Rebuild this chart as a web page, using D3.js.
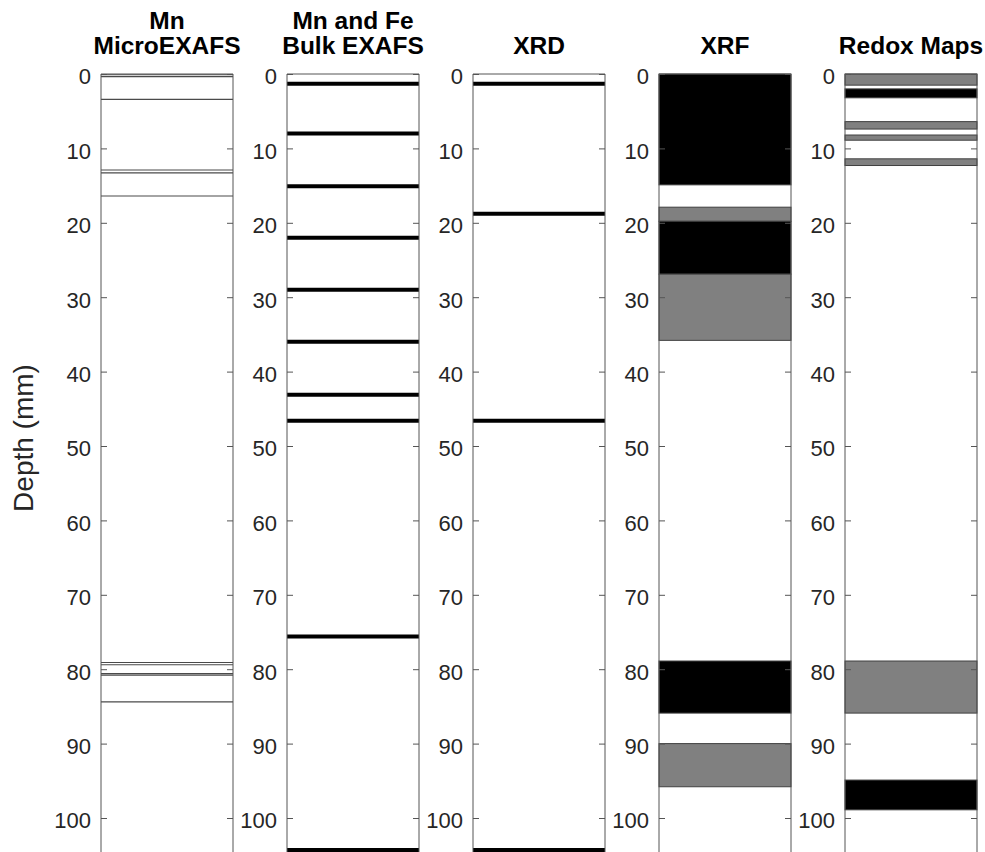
<!DOCTYPE html>
<html>
<head>
<meta charset="utf-8">
<script src="https://cdn.jsdelivr.net/npm/d3@7"></script>
<style>
  body { margin: 0; background: #fff; }
  text { font-family: "Liberation Sans", Arial, Helvetica, sans-serif; }
</style>
</head>
<body>
<svg id="plot1"></svg>
<script>
// panel titles (two lines where needed)
var titles = [['Mn', 'MicroEXAFS'], ['Mn and Fe', 'Bulk EXAFS'], ['XRD'], ['XRF'], ['Redox Maps']];
var yTicks = [0, 10, 20, 30, 40, 50, 60, 70, 80, 90, 100];

// thin sample lines, depth in mm
var microDepths = [0.1, 0.35, 3.4, 12.9, 13.3, 16.4, 79.1, 79.4, 80.6, 80.8, 84.4];
// thick sample lines
var bulkDepths = [1.3, 8.0, 15.1, 22.0, 29.0, 36.0, 43.1, 46.6, 75.6, 104.3];
var xrdDepths = [1.3, 18.8, 46.6, 104.3];
// intervals: [top, bottom, kind]
var xrfTop = [0, 17.9, 19.8, 26.9, 78.9, 90.0];
var xrfBot = [14.9, 19.8, 26.9, 35.8, 85.9, 95.8];
var xrfKind = ['b', 'g', 'b', 'g', 'b', 'g'];
var redoxTop = [0, 2.0, 6.4, 8.2, 11.4, 78.9, 94.9];
var redoxBot = [1.5, 3.2, 7.4, 8.9, 12.3, 85.9, 98.9];
var redoxKind = ['g', 'b', 'g', 'g', 'g', 'g', 'b'];

function init() {
    var w = 985, h = 852;
    var top = 74;
    var pw = 132, step = 186, left0 = 101;
    var fills = {'b': '#000000', 'g': '#808080'};
    var axc = '#262626';
    var boxc = '#555555';

    var svg = d3.select('#plot1').attr('width', w).attr('height', h);
    var ys = d3.scaleLinear().domain([0, 105]).range([top, top + 105 * 7.44]);

    var panels = [];
    for (var i = 0; i < 5; i++) {
        panels.push(svg.append('g').attr('transform', 'translate(' + (left0 + i * step) + ',0)'));
    }

    // marks
    function lines(g, arr, sw, col) {
        g.selectAll('line.m').data(arr).enter().append('line')
            .attr('class', 'm')
            .attr('x1', 0).attr('x2', pw)
            .attr('y1', function(d) { return ys(d); })
            .attr('y2', function(d) { return ys(d); })
            .attr('stroke', col).attr('stroke-width', sw);
    }
    function boxes(g, t, b, k) {
        var rows = t.map(function(d, i) { return {t: d, b: b[i], k: k[i]}; });
        g.selectAll('rect.m').data(rows).enter().append('rect')
            .attr('class', 'm')
            .attr('x', 0).attr('width', pw)
            .attr('y', function(d) { return ys(d.t); })
            .attr('height', function(d) { return ys(d.b) - ys(d.t); })
            .attr('fill', function(d) { return fills[d.k]; })
            .attr('stroke', '#404040').attr('stroke-width', 1);
    }
    lines(panels[0], microDepths, 1.2, '#4a4a4a');
    lines(panels[1], bulkDepths, 4, '#000');
    lines(panels[2], xrdDepths, 4, '#000');
    boxes(panels[3], xrfTop, xrfBot, xrfKind);
    boxes(panels[4], redoxTop, redoxBot, redoxKind);

    // axes
    panels.forEach(function(g, i) {
        var la = g.append('g').call(d3.axisLeft(ys).tickValues(yTicks).tickSize(-6).tickPadding(10));
        la.select('.domain').remove();
        la.selectAll('line').attr('stroke', boxc);
        la.selectAll('text').attr('font-size', 22).attr('fill', axc).attr('dy', '0.45em');
        var ra = g.append('g').attr('transform', 'translate(' + pw + ',0)')
            .call(d3.axisRight(ys).tickValues(yTicks).tickSize(-6).tickFormat(''));
        ra.select('.domain').remove();
        ra.selectAll('line').attr('stroke', boxc);
        // box
        g.append('line').attr('x1', 0).attr('x2', 0).attr('y1', top).attr('y2', h).attr('stroke', boxc);
        g.append('line').attr('x1', pw).attr('x2', pw).attr('y1', top).attr('y2', h).attr('stroke', boxc);
        g.append('line').attr('x1', 0).attr('x2', pw).attr('y1', top).attr('y2', top).attr('stroke', boxc);

        var t = titles[i];
        g.selectAll('text.title').data(t).enter().append('text')
            .attr('class', 'title')
            .attr('x', pw / 2)
            .attr('y', function(d, j) { return 54 - (t.length - 1 - j) * 25; })
            .attr('text-anchor', 'middle')
            .attr('font-size', 24.5).attr('font-weight', 'bold').attr('fill', '#000')
            .text(function(d) { return d; });
    });

    svg.append('text')
        .attr('transform', 'translate(33,438) rotate(-90)')
        .attr('text-anchor', 'middle')
        .attr('font-size', 28).attr('fill', axc)
        .text('Depth (mm)');
}
init();
</script>
</body>
</html>
